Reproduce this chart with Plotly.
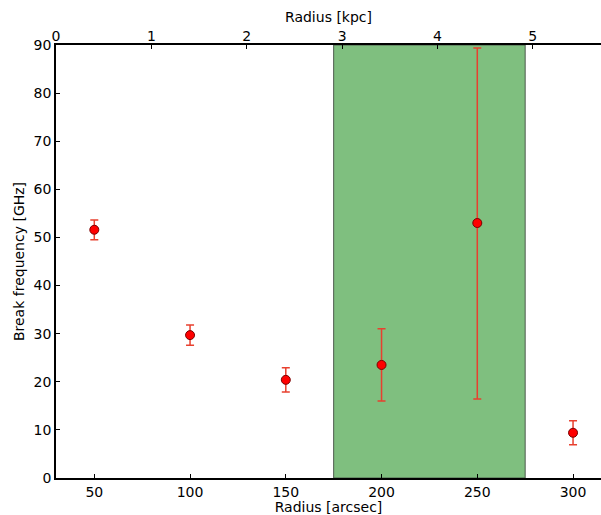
import plotly.graph_objects as go

radius_arcsec = [50, 100, 150, 200, 250, 300]
break_freq = [51.6, 29.7, 20.4, 23.5, 53.0, 9.4]
err_plus = [2.0, 2.1, 2.5, 7.5, 36.4, 2.5]
err_minus = [2.1, 2.1, 2.5, 7.5, 36.6, 2.5]
span_arcsec = [175, 275]
x_range = [30, 314.6]
kpc_range = [0, 5.715]
x_ticks = [50, 100, 150, 200, 250, 300]
kpc_ticks = [0, 1, 2, 3, 4, 5]
y_ticks = [0, 10, 20, 30, 40, 50, 60, 70, 80, 90]

font = dict(family="DejaVu Sans", size=14, color="black")

fig = go.Figure()
fig.add_vrect(x0=span_arcsec[0], x1=span_arcsec[1], fillcolor="#7fbf7f", opacity=1,
              line=dict(color="#4d5a4d", width=1), layer="below")
fig.add_trace(go.Scatter(
    x=radius_arcsec, y=break_freq, mode="markers",
    marker=dict(color="#ff0000", size=9, line=dict(color="#7a0000", width=1)),
    error_y=dict(type="data", symmetric=False, array=err_plus, arrayminus=err_minus,
                 color="#e8402f", thickness=1.5, width=4),
    showlegend=False,
))
# invisible trace to activate top axis
fig.add_trace(go.Scatter(x=kpc_range, y=[None, None], xaxis="x2", mode="markers",
                         showlegend=False, hoverinfo="skip"))

fig.update_layout(
    width=601, height=515,
    margin=dict(l=56, r=0, t=45, b=37),
    plot_bgcolor="white", paper_bgcolor="white",
    font=font,
    xaxis=dict(range=x_range, tickvals=x_ticks, ticks="inside", ticklen=4, tickcolor="black",
               showline=True, linecolor="black", linewidth=1.5, showgrid=False, zeroline=False,
               title=dict(text="Radius [arcsec]", standoff=0, font=font), tickfont=font),
    xaxis2=dict(range=kpc_range, tickvals=kpc_ticks, overlaying="x", side="top",
                ticks="inside", ticklen=4, tickcolor="black", ticklabelstandoff=-3,
                showline=True, linecolor="black", linewidth=1.5, showgrid=False, zeroline=False,
                title=dict(text="Radius [kpc]", standoff=2, font=font), tickfont=font),
    yaxis=dict(range=[0, 90], tickvals=y_ticks, ticks="inside", ticklen=4, tickcolor="black",
               showline=True, linecolor="black", linewidth=1.5, showgrid=False, zeroline=False,
               title=dict(text="Break frequency [GHz]", standoff=6, font=font), tickfont=font),
)
fig.write_html("out.html")
